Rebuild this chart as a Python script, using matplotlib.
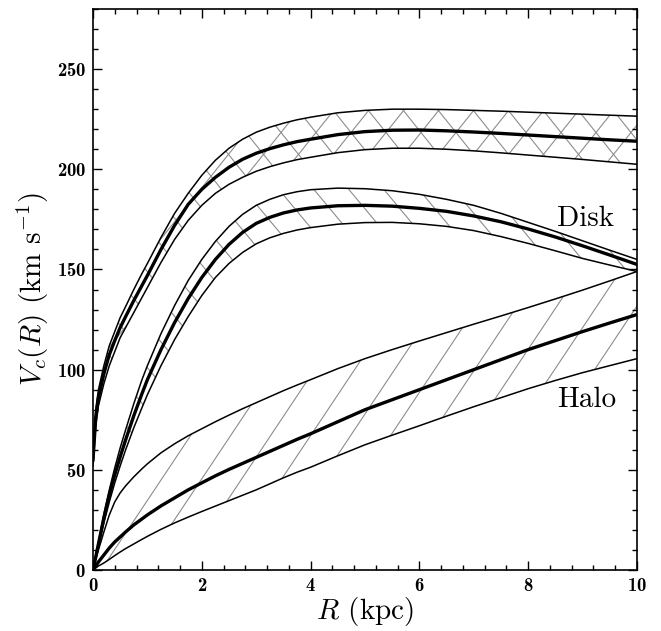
import numpy as np
import matplotlib
matplotlib.use("Agg")
import matplotlib.pyplot as plt
from matplotlib.ticker import MultipleLocator

plt.rcParams["mathtext.fontset"] = "cm"
plt.rcParams["axes.formatter.use_mathtext"] = True

# radius grid (kpc) and circular velocities (km/s)
R = [0, 0.05, 0.1, 0.2, 0.3, 0.4, 0.5, 0.6, 0.75, 0.9, 1.0, 1.25, 1.5, 1.75,
     2.0, 2.25, 2.5, 2.75, 3.0, 3.25, 3.5, 3.75, 4.0, 4.5, 5.0, 5.5, 6.0,
     6.5, 7.0, 7.5, 8.0, 8.5, 9.0, 9.5, 10.0]

tot_hi = [58, 80, 90, 102, 112, 119, 126, 131.5, 140, 148, 153, 166, 178, 188,
          197, 204.5, 210.5, 215, 218.5, 221, 223, 224.7, 226, 228.2, 229.4, 230, 230,
          229.8, 229.4, 229, 228.5, 228, 227.5, 227, 226.5]
tot_mid = [55, 76, 86, 98, 107.5, 114.5, 121, 126.5, 134.5, 142, 147, 160, 172, 182.5,
           190, 196, 201, 205, 208, 210.3, 212.2, 213.8, 215, 217.3, 218.8, 219.5, 219.6,
           219.2, 218.6, 217.9, 217.1, 216.3, 215.5, 214.7, 214]
tot_lo = [52, 72, 82, 93, 102, 109, 116, 121, 128.5, 136, 141, 153.5, 165, 174.5,
          182, 188, 192.5, 196, 199, 201.3, 203.2, 204.8, 206, 208.3, 209.8, 210.5, 210.5,
          210, 209.2, 208.2, 207.1, 206, 204.9, 203.7, 202.5]

disk_hi = [0, 7, 14, 28, 40, 51, 61, 70, 83, 95, 102, 118, 132, 144.5,
           155, 164, 171.5, 177.5, 182, 185, 187.3, 188.8, 189.8, 190.6, 190.3, 189.3, 187.5,
           185, 182, 178, 173.5, 169, 164.3, 159.6, 155]
disk_mid = [0, 6.5, 13, 26, 37.5, 47.5, 56.5, 65, 77, 88, 95, 110, 123.5, 135.5,
            146, 155, 162.5, 168.5, 173, 176, 178.2, 179.7, 180.7, 181.8, 182, 181.6, 180.5,
            179, 176.7, 173.8, 170.2, 166.2, 161.8, 157.2, 152.5]
disk_lo = [0, 6, 12, 23.5, 34, 43.5, 52, 60, 71, 81, 87.5, 102, 115, 126.5,
           137, 146, 153, 158.5, 162.8, 165.8, 168, 169.7, 170.9, 172.6, 173.4, 173.5, 172.8,
           171.5, 169.4, 166.4, 163, 159.3, 155.5, 152.2, 149]

halo_hi = [0, 5, 10, 19, 27.5, 34, 38.5, 42, 46.5, 50.5, 53, 58.5, 63, 67,
           70.5, 74, 77.3, 80.5, 83.5, 86.5, 89.5, 92.3, 95, 100.5, 105.5, 110, 114.3,
           118.5, 122.7, 126.8, 131, 135.3, 139.7, 144.3, 149]
halo_mid = [0, 2, 4, 7.5, 11, 14, 16.5, 19, 22.5, 25.5, 27.5, 32, 36, 40,
            43.5, 47, 50.2, 53.2, 56.2, 59.2, 62.2, 65.2, 68, 74, 80, 85, 90,
            95, 100, 105, 110, 114.5, 119, 123.3, 127.5]
halo_lo = [0, 1, 2, 3.5, 5.3, 7.2, 9, 10.7, 13, 15.3, 16.8, 20.3, 23.5, 26.4,
           29.2, 31.9, 34.6, 37.3, 40, 43, 46, 48.8, 51.3, 57, 62.5, 67.3, 72,
           76.8, 81.5, 86, 90.5, 94.6, 98.5, 102, 105.5]

W_PX, H_PX = 661, 631
fig = plt.figure(figsize=(W_PX / 100, H_PX / 100), dpi=100)
left, right, bottom, top = 93 / W_PX, 637 / W_PX, 61 / H_PX, 622 / H_PX
ax = fig.add_axes([left, bottom, right - left, top - bottom])
ax_w = (right - left) * W_PX
ax_h = (top - bottom) * H_PX


def hatch_band(lo, hi, slopes, period):
    # custom hatching: straight lines (pixel slope, pixel period) clipped to the band
    band = ax.fill_between(R, lo, hi, facecolor="none", edgecolor="none")
    path = band.get_paths()[0]
    xs = np.array([0.0, 1.0])
    step = period / ax_w
    for k in slopes:
        s = k * ax_w / ax_h
        for x0 in np.arange(-3, 3, step):
            ln, = ax.plot(xs, s * (xs - x0), transform=ax.transAxes,
                          color="#8c8c8c", lw=0.8, zorder=1)
            ln.set_clip_path(path, ax.transData)


hatch_band(tot_lo, tot_hi, [1.25, -1.25], 35)
hatch_band(disk_lo, disk_hi, [-1.2], 35)
hatch_band(halo_lo, halo_hi, [1.5], 40)

for lo, mid, hi in [(tot_lo, tot_mid, tot_hi),
                    (disk_lo, disk_mid, disk_hi),
                    (halo_lo, halo_mid, halo_hi)]:
    ax.plot(R, lo, color="black", lw=1.1, zorder=3)
    ax.plot(R, hi, color="black", lw=1.1, zorder=3)
    ax.plot(R, mid, color="black", lw=2.4, zorder=4)

ax.text(9.06, 175.5, "Disk", fontsize=21, family="cmr10", ha="center", va="center")
ax.text(9.08, 85, "Halo", fontsize=21, family="cmr10", ha="center", va="center")

ax.set_xlim(0, 10)
ax.set_ylim(0, 280)
ax.xaxis.set_major_locator(MultipleLocator(2))
ax.xaxis.set_minor_locator(MultipleLocator(0.4))
ax.yaxis.set_major_locator(MultipleLocator(50))
ax.yaxis.set_minor_locator(MultipleLocator(10))
ax.tick_params(which="both", direction="in", top=True, right=True, width=1)
ax.tick_params(which="major", length=6.5, pad=5)
ax.tick_params(which="minor", length=3.5)
for lab in ax.get_xticklabels() + ax.get_yticklabels():
    lab.set_family("cmb10")
    lab.set_fontsize(13.5)
for sp in ax.spines.values():
    sp.set_linewidth(1.2)

ax.set_xlabel(r"$R$ (kpc)", fontsize=21, family="cmr10", labelpad=0)
ax.set_ylabel(r"$V_c(R)$ (km s$^{-1}$)", fontsize=21, family="cmr10", labelpad=4)

fig.savefig("out.png", dpi=100)
